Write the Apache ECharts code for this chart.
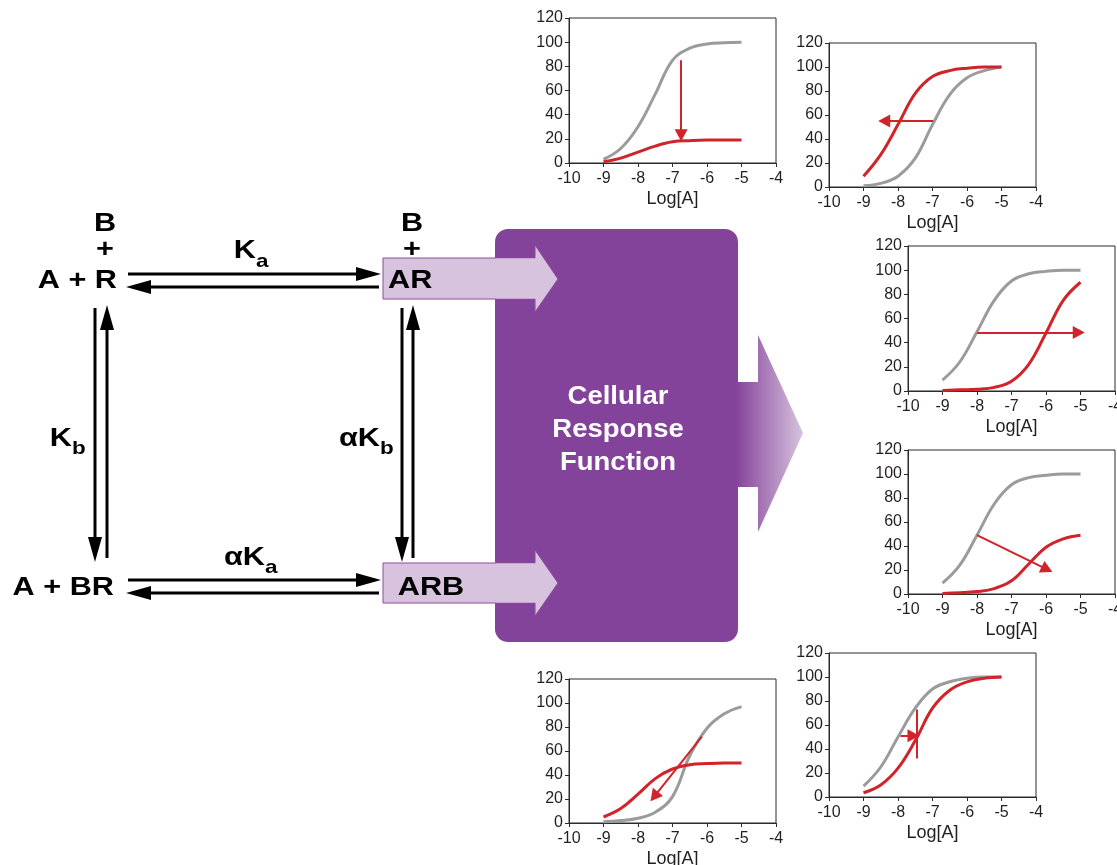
<!DOCTYPE html>
<html>
<head>
<meta charset="utf-8">
<script src="https://cdn.jsdelivr.net/npm/echarts@6/dist/echarts.min.js"></script>
<style>html,body{margin:0;padding:0;background:#fff}#c{width:1117px;height:865px}</style>
</head>
<body>
<div id="c"></div>
<script>
// ---- data ----
const logA = [-9, -8.5, -8, -7.5, -7, -6.5, -6, -5.5, -5];
const xTicks = [-10, -9, -8, -7, -6, -5, -4];
const yTicks = [0, 20, 40, 60, 80, 100, 120];

const c1Gray = [3, 12, 30, 57, 85, 95, 98.5, 99.5, 100];
const c1Red  = [1, 4, 9, 14, 17.5, 18.5, 19, 19, 19];
const c1Arrow = [[-6.75, 85], [-6.75, 23]];

const c2Gray = [1, 3, 9, 24, 52, 77, 91, 97, 100];
const c2Red  = [9, 27, 52, 78, 92, 97, 99, 100, 100];
const c2Arrow = [[-6.98, 55], [-8.4, 55]];

const c3Gray = [9, 24, 49, 75, 91, 97, 99, 100, 100];
const c3Red  = [0.5, 1, 1.5, 3, 8, 22, 48, 75, 90];
const c3Arrow = [[-8, 48.5], [-5.05, 48.5]];

const c4Gray = [9, 24, 49, 75, 91, 97, 99, 100, 100];
const c4Red  = [0.5, 1, 2, 4.5, 11, 25, 39, 46, 49];
const c4Arrow = [[-8, 49], [-5.97, 20.5]];

const c5Gray = [1, 2, 4, 9, 22, 56, 79, 91, 97];
const c5Red  = [5, 12, 24, 37, 45, 48.5, 49.5, 50, 50];
const c5Arrow = [[-6.15, 72], [-7.53, 22]];

const c6Gray = [9, 25, 50, 74, 90, 96, 99, 100, 100];
const c6Red  = [3.5, 10, 24, 47, 74, 89, 96, 99, 100];
const c6Arrow = [[-7.93, 51], [-7.55, 51]];
const c6Bar = [[-7.45, 73], [-7.45, 32]];

// ---- styles ----
const GRAY = '#9b9b9d', RED = '#d0232a', INK = '#231f20';
const PURPLE = '#84439a', LIGHT = '#d8c3de';
const FONT = '"Liberation Sans", Arial, Helvetica, sans-serif';

const grids = [
  {left: 569, top: 18, width: 207, height: 145},
  {left: 829, top: 43, width: 207, height: 144},
  {left: 908, top: 246, width: 207, height: 145},
  {left: 908, top: 450, width: 207, height: 144},
  {left: 569, top: 679, width: 207, height: 144},
  {left: 829, top: 653, width: 207, height: 144}
];
const charts = [
  {gray: c1Gray, red: c1Red, arrows: [c1Arrow], bars: []},
  {gray: c2Gray, red: c2Red, arrows: [c2Arrow], bars: []},
  {gray: c3Gray, red: c3Red, arrows: [c3Arrow], bars: []},
  {gray: c4Gray, red: c4Red, arrows: [c4Arrow], bars: []},
  {gray: c5Gray, red: c5Red, arrows: [c5Arrow], bars: []},
  {gray: c6Gray, red: c6Red, arrows: [c6Arrow], bars: [c6Bar]}
];

const pairs = arr => logA.map((x, i) => [x, arr[i]]);

const xAxes = [], yAxes = [], series = [];
grids.forEach((g, i) => {
  g.show = true; g.borderColor = '#2b2b2b'; g.borderWidth = 1; g.backgroundColor = 'transparent';
  g.containLabel = false; g.outerBoundsMode = 'none';
  xAxes.push({
    type: 'value', gridIndex: i, min: xTicks[0], max: xTicks[xTicks.length - 1], interval: 1,
    name: 'Log[A]', nameLocation: 'middle', nameGap: 27,
    nameTextStyle: {fontSize: 18, color: INK, fontFamily: FONT},
    axisLine: {show: true, onZero: false, lineStyle: {color: '#2b2b2b', width: 1}},
    axisTick: {show: true, inside: false, length: 4, lineStyle: {color: '#2b2b2b'}},
    axisLabel: {fontSize: 16, color: INK, fontFamily: FONT, margin: 8, showMinLabel: true, showMaxLabel: true},
    splitLine: {show: false}
  });
  yAxes.push({
    type: 'value', gridIndex: i, min: yTicks[0], max: yTicks[yTicks.length - 1], interval: 20,
    axisLine: {show: true, onZero: false, lineStyle: {color: '#2b2b2b', width: 1}},
    axisTick: {show: true, inside: false, length: 4, lineStyle: {color: '#2b2b2b'}},
    axisLabel: {fontSize: 16, color: INK, fontFamily: FONT, margin: 6},
    splitLine: {show: false}
  });
  const c = charts[i];
  series.push({
    type: 'line', xAxisIndex: i, yAxisIndex: i, data: pairs(c.gray),
    smooth: 0.4, showSymbol: false, silent: true,
    lineStyle: {color: GRAY, width: 3}, z: 2
  });
  const ml = [];
  c.arrows.forEach(a => ml.push([{coord: a[0], symbol: 'none'}, {coord: a[1], symbol: 'triangle', symbolSize: [13, 12]}]));
  c.bars.forEach(a => ml.push([{coord: a[0], symbol: 'none'}, {coord: a[1], symbol: 'none'}]));
  series.push({
    type: 'line', xAxisIndex: i, yAxisIndex: i, data: pairs(c.red),
    smooth: 0.4, showSymbol: false, silent: true,
    lineStyle: {color: RED, width: 3}, z: 3,
    markLine: {
      silent: true, animation: false, symbol: ['none', 'triangle'],
      label: {show: false}, lineStyle: {color: RED, width: 2, type: 'solid'},
      emphasis: {disabled: true}, data: ml
    }
  });
});

// ---- scheme (diagram) helpers ----
const graphics = [];
const HL = 25, HW = 7;
function hArrow(x1, x2, y) { // from x1 to tip at x2
  const d = x2 > x1 ? 1 : -1;
  const base = x2 - d * HL;
  graphics.push({type: 'line', shape: {x1: x1, y1: y, x2: base, y2: y}, style: {stroke: '#000', lineWidth: 3}});
  graphics.push({type: 'polygon', shape: {points: [[x2, y], [base, y - HW], [base, y + HW]]}, style: {fill: '#000'}});
}
function vArrow(x, y1, y2) {
  const d = y2 > y1 ? 1 : -1;
  const base = y2 - d * HL;
  graphics.push({type: 'line', shape: {x1: x, y1: y1, x2: x, y2: base}, style: {stroke: '#000', lineWidth: 3}});
  graphics.push({type: 'polygon', shape: {points: [[x, y2], [x - HW, base], [x + HW, base]]}, style: {fill: '#000'}});
}
function txt(t, x, y, size, align, color, sx) {
  graphics.push({
    type: 'text', x: x, y: y, scaleX: sx || 1.18, z: 10,
    style: {text: t, x: 0, y: 0, font: 'bold ' + size + 'px ' + FONT, fill: color || '#000',
      textAlign: align || 'center', textVerticalAlign: 'middle', align: align || 'center', verticalAlign: 'middle'}
  });
}

// purple processing box
graphics.push({type: 'rect', shape: {x: 495, y: 229, width: 243, height: 413, r: 13}, style: {fill: PURPLE}, z: 1});
// output arrow with gradient
graphics.push({
  type: 'polygon', z: 1,
  shape: {points: [[736, 382], [758, 382], [758, 335], [803, 433], [758, 532], [758, 487], [736, 487]]},
  style: {fill: new echarts.graphic.LinearGradient(0, 0, 1, 0, [{offset: 0, color: PURPLE}, {offset: 1, color: '#d7c3de'}])}
});
// light input arrows (AR, ARB)
graphics.push({type: 'polygon', z: 2,
  shape: {points: [[383, 258], [535, 258], [535, 245], [558, 279], [535, 312], [535, 299], [383, 299]]},
  style: {fill: LIGHT, stroke: '#8e4a9c', lineWidth: 1}});
graphics.push({type: 'polygon', z: 2,
  shape: {points: [[383, 563], [535, 563], [535, 550], [558, 583], [535, 616], [535, 603], [383, 603]]},
  style: {fill: LIGHT, stroke: '#8e4a9c', lineWidth: 1}});
// cover the stroke inside the purple box
graphics.push({type: 'rect', z: 3, shape: {x: 495.5, y: 258.5, width: 39, height: 40}, style: {fill: LIGHT}});
graphics.push({type: 'rect', z: 3, shape: {x: 495.5, y: 563.5, width: 39, height: 39}, style: {fill: LIGHT}});

// equilibrium arrows
hArrow(128, 381, 274);
hArrow(379, 126, 287);
hArrow(128, 381, 580);
hArrow(379, 126, 593);
vArrow(95, 308, 562);
vArrow(107, 558, 305);
vArrow(402, 308, 562);
vArrow(413, 558, 305);

// labels
txt('B', 105, 224, 26);
txt('+', 105, 250, 26);
txt('A + R', 117, 281, 26, 'right');
txt('K', 256, 251, 26, 'right');
txt('a', 256, 262, 19, 'left');
txt('AR', 388, 281, 26, 'left');
txt('B', 412, 224, 26);
txt('+', 412, 250, 26);
txt('K', 72, 439, 26, 'right');
txt('b', 72, 449, 19, 'left');
txt('\u03b1K', 380, 439, 26, 'right');
txt('b', 380, 449, 19, 'left');
txt('A + BR', 114, 588, 26, 'right');
txt('\u03b1K', 265, 558, 26, 'right');
txt('a', 265, 568, 19, 'left');
txt('ARB', 431, 588, 26);
txt('Cellular', 618, 397, 25, 'center', '#fff', 1.1);
txt('Response', 618, 430, 25, 'center', '#fff', 1.1);
txt('Function', 618, 463, 25, 'center', '#fff', 1.1);

const chart = echarts.init(document.getElementById('c'), null, {renderer: 'canvas'});
chart.setOption({
  animation: false,
  backgroundColor: '#fff',
  grid: grids,
  xAxis: xAxes,
  yAxis: yAxes,
  series: series,
  graphic: {elements: graphics}
});
</script>
</body>
</html>
